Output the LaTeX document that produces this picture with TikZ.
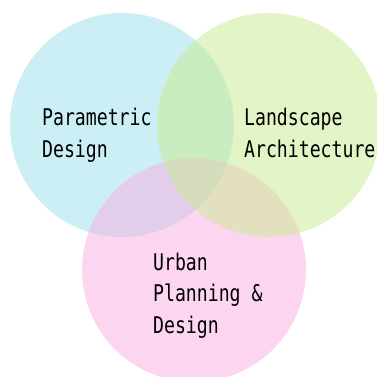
\documentclass[tikz,border=0pt]{standalone}
\usepackage{fontspec}
\newfontfamily\labelfont{DejaVu Sans Mono}
\usepackage{tikz}
\usepackage{color}
\definecolor{paracolor}{RGB}{153,223,235}
\definecolor{landcolor}{RGB}{199,235,143}
\definecolor{urbancolor}{RGB}{250,173,225}
\tikzstyle{set} = [fill opacity=.5,draw=none]
\tikzstyle{label} = [align=left,inner sep=0pt,anchor=base west,xscale=.79,
  font=\labelfont\fontsize{23}{31.5}\selectfont]

\begin{document}
\begin{tikzpicture}[x=1pt,y=-1pt]
		\useasboundingbox (0,0) rectangle (377,376);
		\clip (0,0) rectangle (377,376);
		\fill[set,paracolor] (122,125) circle (112);
		\fill[set,urbancolor] (194,270) circle (112);
		\fill[set,landcolor] (269,125) circle (112);
		
		\node [label](p) at (42,157) {Parametric\\Design};
		\node [label](l) at (244,157) {Landscape\\Architecture};
		\node [label](u) at (153,333) {Urban\\Planning \&\\Design};
		\end{tikzpicture}
\end{document}
